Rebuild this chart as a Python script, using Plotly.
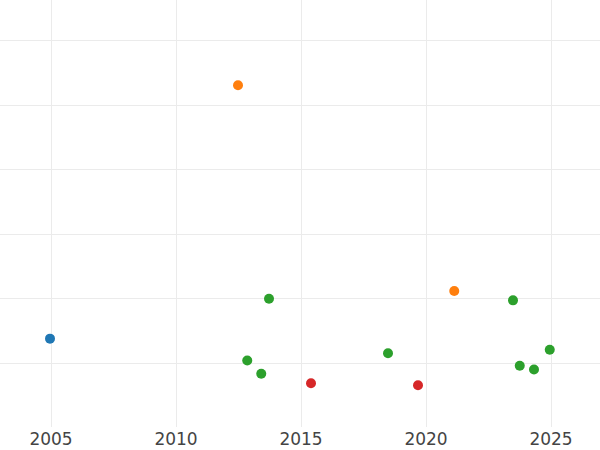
import plotly.graph_objects as go

# Data (x = year, y = value in grid units)
blue_x = [2004.96]
blue_y = [1.38]
orange_x = [2012.48, 2021.13]
orange_y = [5.31, 2.12]
green_x = [2013.72, 2012.85, 2013.41, 2018.48, 2023.48, 2023.75, 2024.32, 2024.95]
green_y = [2.00, 1.04, 0.835, 1.155, 1.974, 0.96, 0.902, 1.208]
red_x = [2015.40, 2019.68]
red_y = [0.689, 0.658]

x_ticks = [2005, 2010, 2015, 2020, 2025]

series = [
    ("A", blue_x, blue_y, "#1f77b4"),
    ("B", orange_x, orange_y, "#ff7f0e"),
    ("C", green_x, green_y, "#2ca02c"),
    ("D", red_x, red_y, "#d62728"),
]

fig = go.Figure()
for name, xs, ys, col in series:
    fig.add_trace(go.Scatter(x=xs, y=ys, mode="markers", name=name,
                             marker=dict(size=10, color=col, line=dict(width=0))))

fig.update_layout(
    width=600, height=450,
    margin=dict(l=0, r=0, t=0, b=23),
    paper_bgcolor="white", plot_bgcolor="white",
    showlegend=False,
    font=dict(family="DejaVu Sans", size=17, color="#444444"),
)
fig.update_xaxes(range=[2002.96, 2026.96], tickvals=x_ticks, ticktext=[str(t) for t in x_ticks],
                 showgrid=True, gridcolor="#ebebeb", gridwidth=1, zeroline=False, showline=False,
                 ticks="")
fig.update_yaxes(range=[0.01, 6.632], dtick=1, tick0=0, showgrid=True, gridcolor="#ebebeb",
                 gridwidth=1, zeroline=False, showline=False, showticklabels=False, ticks="")

fig.write_html("out.html", config={"displayModeBar": False},
               post_script="document.body.style.margin='0';document.body.style.overflow='hidden';")
